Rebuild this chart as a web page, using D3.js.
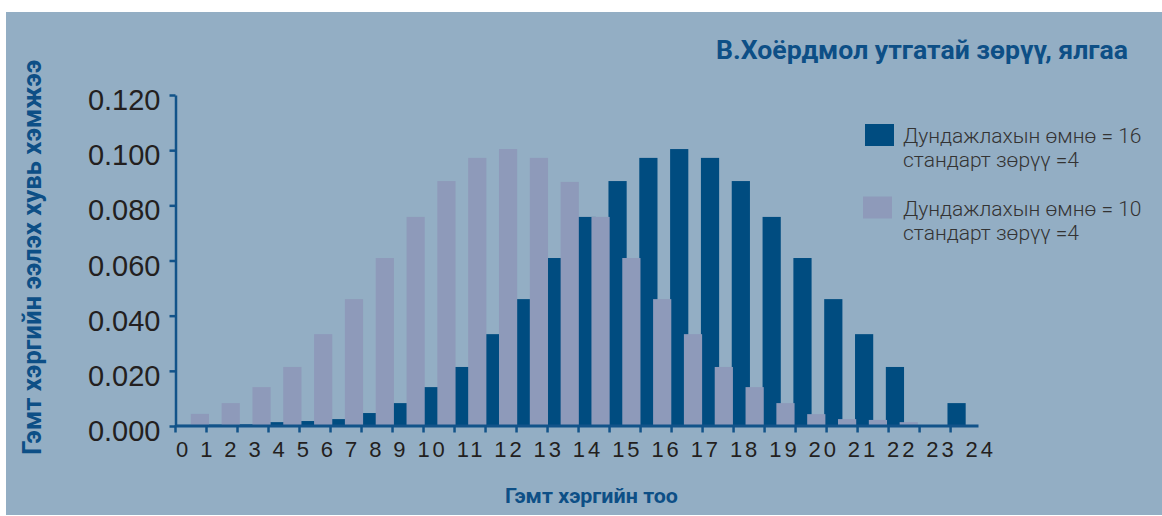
<!DOCTYPE html>
<html>
<head>
<meta charset="utf-8">
<script src="https://cdn.jsdelivr.net/npm/d3@7"></script>
<style>
  html, body { margin: 0; padding: 0; background: #ffffff; }
  svg { display: block; }
</style>
</head>
<body>
<div id="chart"></div>
<script>
// ---------------- data ----------------
const categories = [0,1,2,3,4,5,6,7,8,9,10,11,12,13,14,15,16,17,18,19,20,21,22,23,24,25];
const xTickLabels = ["0","1","2","3","4","5","6","7","8","9","10","11","12","13","14","15","16","17","18","19","20","21","22","23","24"];
const yTickValues = [0, 0.02, 0.04, 0.06, 0.08, 0.10, 0.12];
const yTickLabels = ["0.000","0.020","0.040","0.060","0.080","0.100","0.120"];
// mean 16, sd 4
const seriesMean16 = [0.0004,0.0005,0.0006,0.0014,0.0018,0.0025,0.0047,0.0083,0.0141,0.0214,0.0333,0.0460,0.0609,0.0758,0.0888,0.0972,0.1004,0.0972,0.0888,0.0758,0.0609,0.0460,0.0333,0.0214,0,0.0083];
// mean 10, sd 4
const seriesMean10 = [0.0044,0.0083,0.0141,0.0214,0.0333,0.0460,0.0609,0.0758,0.0888,0.0972,0.1004,0.0972,0.0885,0.0758,0.0609,0.0460,0.0333,0.0214,0.0141,0.0083,0.0043,0.0025,0.0022,0.0014,0,0];
const seriesNames = ["Дундажлахын өмнө = 16", "Дундажлахын өмнө = 10"];
const seriesSub = ["стандарт зөрүү =4", "стандарт зөрүү =4"];
const title = "В.Хоёрдмол утгатай зөрүү, ялгаа";
const yTitle = "Гэмт хэргийн ээлэх хувь хэмжээ";
const xTitle = "Гэмт хэргийн тоо";

// ---------------- styles ----------------
const W = 1162, H = 516;
const BG = "#93aec4";
const DARK = "#004c80";
const LIGHT = "#8e9aba";
const AXIS = "#125389";
const TITLE_C = "#0d4f86";
const TEXT_C = "#231f20";

const svg = d3.select("#chart").append("svg").attr("width", W).attr("height", H);

svg.append("rect").attr("x", 6).attr("y", 12).attr("width", W - 6).attr("height", H - 13).attr("fill", BG);

// scales
const y = d3.scaleLinear().domain([0, 0.12]).range([426, 95]);
const xAxisScale = d3.scaleLinear().domain([0, 25.9]).range([175, 978]);
const xBar = d3.scaleBand().domain(categories).range([177, 978.3]).paddingInner(0).paddingOuter(0);
const sub = d3.scaleOrdinal().domain(["s16", "s10"]).range([0, 13.8]);
const barW = 18.2;

// bars: mean 16 (dark) first, mean 10 (light) on top
svg.append("g").selectAll("rect").data(categories).join("rect")
  .attr("x", d => xBar(d) + sub("s16"))
  .attr("width", barW)
  .attr("y", d => y(seriesMean16[d]))
  .attr("height", d => y(0) - y(seriesMean16[d]))
  .attr("fill", DARK);

svg.append("g").selectAll("rect").data(categories).join("rect")
  .attr("x", d => xBar(d) + sub("s10"))
  .attr("width", barW)
  .attr("y", d => y(seriesMean10[d]))
  .attr("height", d => y(0) - y(seriesMean10[d]))
  .attr("fill", LIGHT);

// y axis
const yAxis = svg.append("g").attr("transform", "translate(175.5,0)")
  .call(d3.axisLeft(y).tickValues(yTickValues).tickSize(6).tickSizeOuter(0)
    .tickFormat((d, i) => yTickLabels[i]));
yAxis.select(".domain").attr("stroke", AXIS).attr("stroke-width", 2.5);
yAxis.selectAll(".tick line").attr("stroke", AXIS).attr("stroke-width", 2.5);
yAxis.selectAll(".tick text")
  .attr("x", -15).attr("dy", "0.5em")
  .attr("fill", TEXT_C)
  .style("font-family", "'Liberation Sans', Arial, sans-serif")
  .style("font-size", "29px");

// x axis
const xAxis = svg.append("g").attr("transform", "translate(0,425.5)")
  .call(d3.axisBottom(xAxisScale).tickValues(categories).tickSize(7).tickSizeOuter(0).tickFormat(""));
xAxis.select(".domain").attr("stroke", AXIS).attr("stroke-width", 3);
xAxis.selectAll(".tick line").attr("stroke", AXIS).attr("stroke-width", 2.5);

// x tick labels as one spaced line (as in the original)
svg.append("text")
  .attr("x", 176).attr("y", 457)
  .attr("textLength", 817).attr("lengthAdjust", "spacing")
  .attr("fill", TEXT_C)
  .style("font-family", "'Liberation Sans', Arial, sans-serif")
  .style("font-size", "22px")
  .text(xTickLabels.join(" "));

// titles
svg.append("text")
  .attr("x", 1128).attr("y", 59).attr("text-anchor", "end")
  .attr("textLength", 412).attr("lengthAdjust", "spacingAndGlyphs")
  .attr("fill", TITLE_C)
  .style("font-family", "Roboto, sans-serif").style("font-weight", 700).style("font-size", "25.5px")
  .text(title);

svg.append("text")
  .attr("transform", "translate(41,257.5) rotate(-90)")
  .attr("text-anchor", "middle")
  .attr("textLength", 395).attr("lengthAdjust", "spacingAndGlyphs")
  .attr("fill", TITLE_C)
  .style("font-family", "Roboto, sans-serif").style("font-weight", 700).style("font-size", "25px")
  .text(yTitle);

svg.append("text")
  .attr("x", 591.5).attr("y", 503).attr("text-anchor", "middle")
  .attr("textLength", 173).attr("lengthAdjust", "spacingAndGlyphs")
  .attr("fill", TITLE_C)
  .style("font-family", "Roboto, sans-serif").style("font-weight", 700).style("font-size", "20.5px")
  .text(xTitle);

// legend
const legendColors = [DARK, LIGHT];
const legend = svg.append("g");
seriesNames.forEach((name, i) => {
  const g = legend.append("g").attr("transform", `translate(0,${i * 72.5})`);
  g.append("rect").attr("x", 865 - 2 * i).attr("y", 124).attr("width", 29).attr("height", 22).attr("fill", legendColors[i]);
  const t = g.append("text")
    .attr("fill", "#333333")
    .style("font-family", "Roboto, sans-serif").style("font-weight", 300).style("font-size", "21px");
  t.append("tspan").attr("x", 903).attr("y", 143).text(name);
  t.append("tspan").attr("x", 903).attr("y", 167).text(seriesSub[i]);
});
</script>
</body>
</html>
